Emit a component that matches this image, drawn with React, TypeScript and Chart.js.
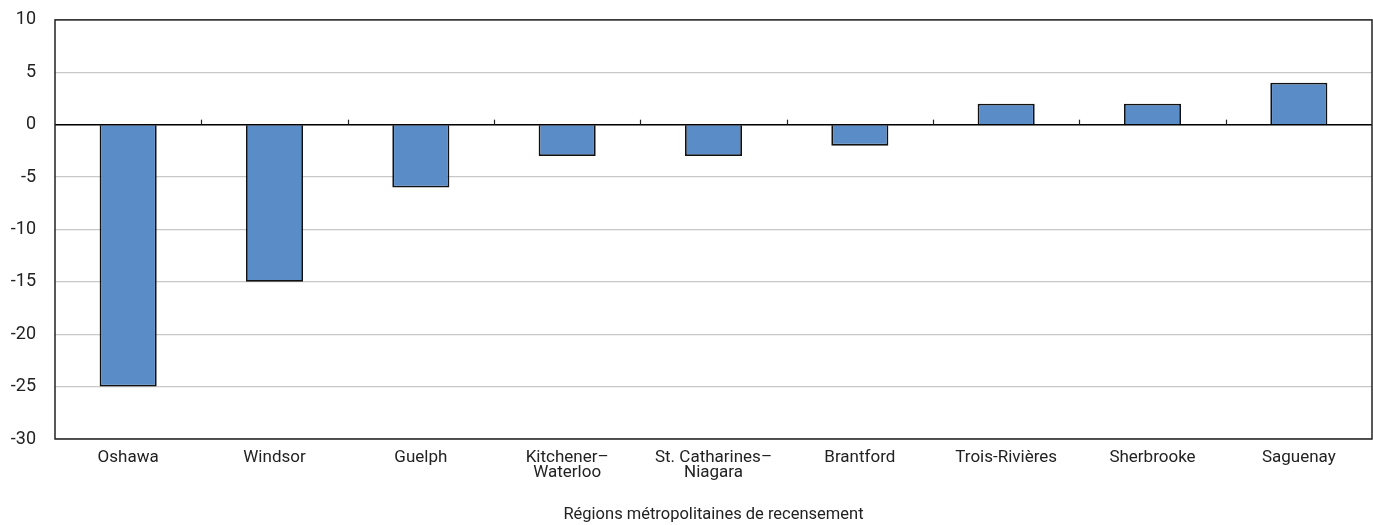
import React, { useEffect, useRef } from "react";
import { Chart, registerables } from "chart.js";

Chart.register(...registerables);

const categories: (string | string[])[] = [
  "Oshawa",
  "Windsor",
  "Guelph",
  ["Kitchener–", "Waterloo"],
  ["St. Catharines–", "Niagara"],
  "Brantford",
  "Trois-Rivières",
  "Sherbrooke",
  "Saguenay",
];
const values: number[] = [-25, -15, -6, -3, -3, -2, 2, 2, 4];
const yMin = -30;
const yMax = 10;
const yStep = 5;
const xTitle = "Régions métropolitaines de recensement";

const FONT = "Roboto, 'Liberation Sans', Arial, sans-serif";

const framePlugin = {
  id: "frame",
  afterDatasetsDraw(chart: any) {
    const { ctx, chartArea, scales } = chart;
    const x = scales.x;
    const y = scales.y;
    const zy = y.getPixelForValue(0);
    ctx.save();
    ctx.strokeStyle = "#000";
    ctx.lineWidth = 1.5;
    ctx.beginPath();
    ctx.moveTo(chartArea.left, zy);
    ctx.lineTo(chartArea.right, zy);
    ctx.stroke();
    ctx.lineWidth = 1.2;
    ctx.strokeStyle = "#222";
    for (let i = 1; i < categories.length; i++) {
      const px = Math.round(x.getPixelForValue(i - 0.5)) + 0.5;
      ctx.beginPath();
      ctx.moveTo(px, zy);
      ctx.lineTo(px, zy - 5);
      ctx.stroke();
    }
    ctx.strokeStyle = "#222";
    ctx.lineWidth = 1.5;
    ctx.strokeRect(chartArea.left, chartArea.top, chartArea.right - chartArea.left, chartArea.bottom - chartArea.top);
    ctx.restore();
  },
};

export default function App() {
  const ref = useRef<HTMLCanvasElement>(null);
  useEffect(() => {
    if (!ref.current) return;
    const chart = new Chart(ref.current, {
      type: "bar",
      data: {
        labels: categories,
        datasets: [
          {
            data: values,
            backgroundColor: "#5A8CC8",
            borderColor: "#111",
            borderWidth: 1.8,
            barPercentage: 0.39,
            categoryPercentage: 1,
          },
        ],
      },
      options: {
        animation: false,
        responsive: false,
        maintainAspectRatio: false,
        layout: { padding: { top: 0, right: 1, left: 0, bottom: 0 } },
        plugins: {
          legend: { display: false },
          tooltip: { enabled: false },
        },
        scales: {
          x: {
            grid: { display: false, drawTicks: false },
            border: { display: false },
            ticks: {
              color: "#222",
              font: { family: FONT, size: 17, lineHeight: 0.9 },
              padding: 11,
              maxRotation: 0,
              autoSkip: false,
            },
            title: {
              display: true,
              text: xTitle,
              color: "#222",
              font: { family: FONT, size: 16.5 },
              padding: { top: 19, bottom: 0 },
            },
            afterFit: (s: any) => {
              s.height = 86;
            },
          },
          y: {
            min: yMin,
            max: yMax,
            ticks: {
              stepSize: yStep,
              color: "#222",
              font: { family: FONT, size: 18, lineHeight: 0.1 },
              padding: 19,
            },
            grid: {
              color: "#c8c8c8",
              lineWidth: 1.2,
              drawTicks: false,
            },
            border: { display: false },
            afterFit: (s: any) => {
              s.width = 55;
            },
          },
        },
      },
      plugins: [framePlugin],
    });
    return () => chart.destroy();
  }, []);
  return (
    <div style={{ position: "fixed", left: 0, top: 0, width: 1373, height: 525, background: "#fff" }}>
      <canvas ref={ref} width={1373} height={525} style={{ width: 1373, height: 525 }} />
    </div>
  );
}
